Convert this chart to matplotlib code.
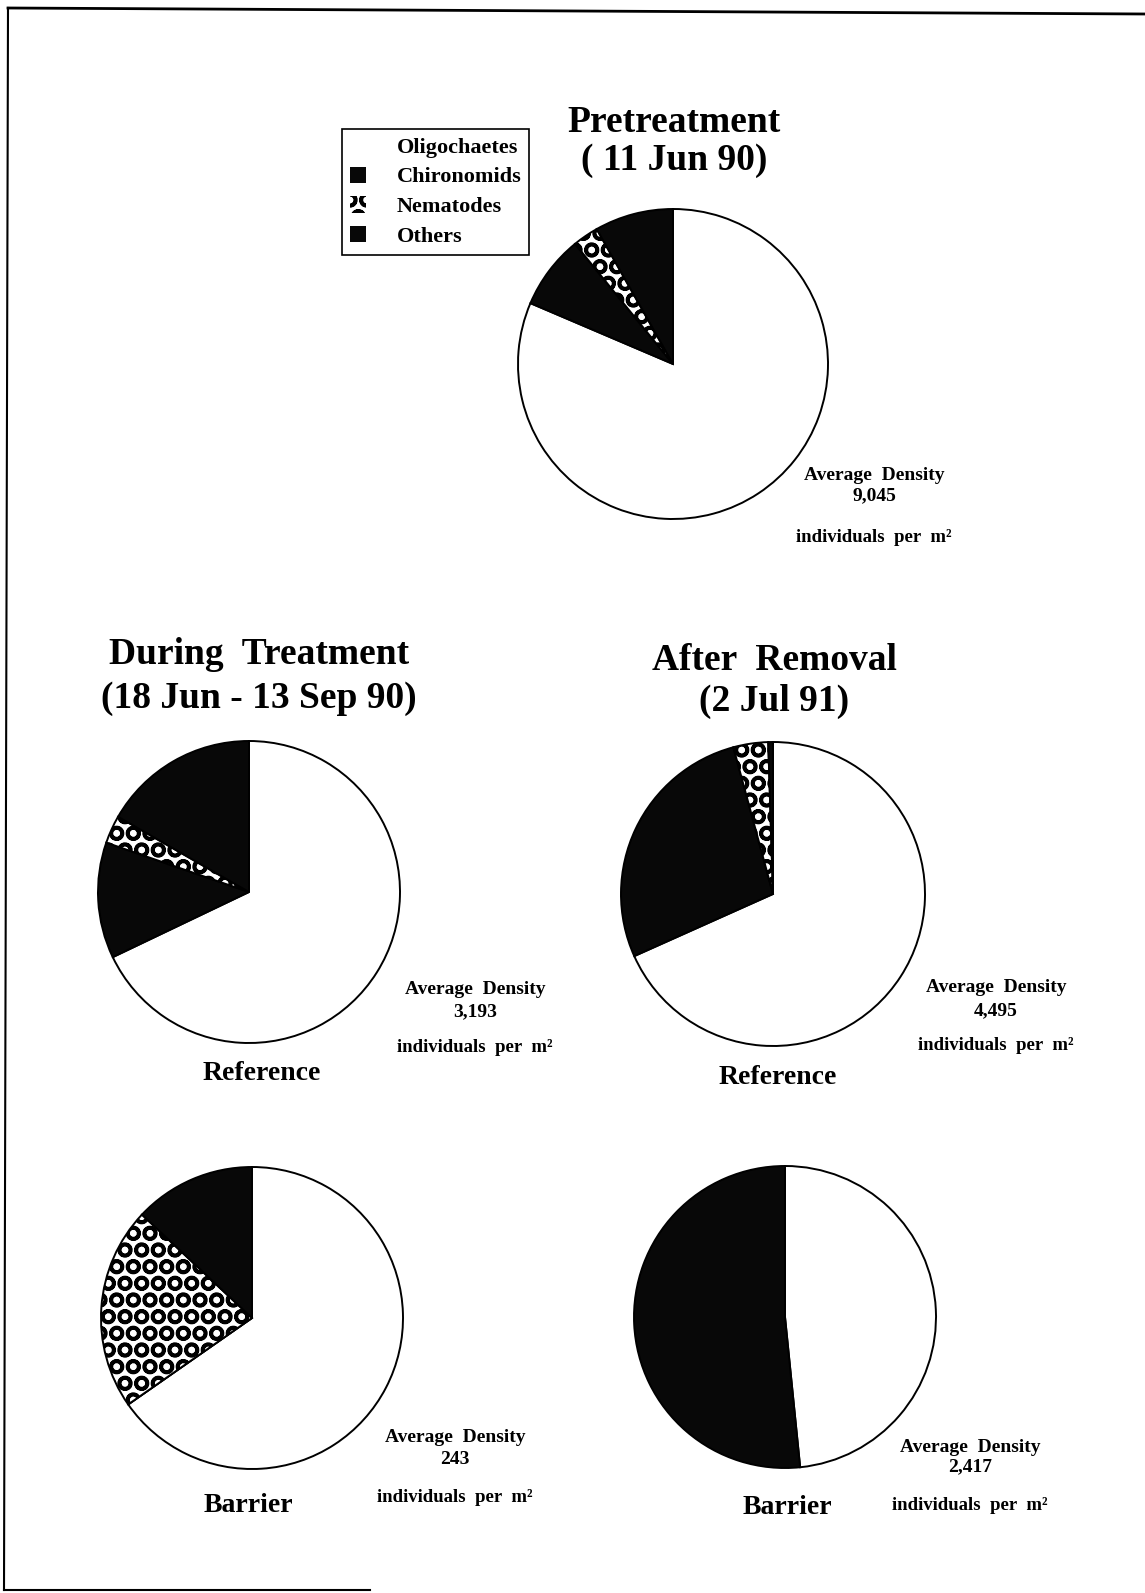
import matplotlib
matplotlib.use("Agg")
import matplotlib.pyplot as plt
from matplotlib.patches import Patch

plt.rcParams['font.family'] = ['Liberation Serif', 'DejaVu Serif']
plt.rcParams['hatch.color'] = 'black'
plt.rcParams['hatch.linewidth'] = 2.6

W, H = 1145, 1593

categories = ['Oligochaetes', 'Chironomids', 'Nematodes', 'Others']
colors = ['white', '#080808', 'white', '#080808']
hatches = [None, None, 'O', None]

# percent of individuals
pre_values = [81.5, 7.7, 2.7, 8.2]
during_ref_values = [67.9, 12.4, 3.0, 16.7]
after_ref_values = [68.3, 27.5, 3.7, 0.5]
during_bar_values = [65.3, 0.0, 21.7, 13.0]
after_bar_values = [48.4, 51.6, 0.0, 0.0]

densities = ['9,045', '3,193', '4,495', '243', '2,417']

fig = plt.figure(figsize=(W / 100, H / 100), dpi=100)
ax = fig.add_axes([0, 0, 1, 1])


def Y(y):
    return H - y


def draw_pie(vals, cx, cy, r):
    wedges, _ = ax.pie(vals, colors=colors, startangle=90, counterclock=False,
                       center=(cx, Y(cy)), radius=r,
                       wedgeprops=dict(edgecolor='black', linewidth=1.4))
    for w, h in zip(wedges, hatches):
        if h:
            w.set_hatch(h)
    return wedges


draw_pie(pre_values, 673, 364, 155)
draw_pie(during_ref_values, 249, 892, 151)
draw_pie(after_ref_values, 773, 894, 152)
draw_pie(during_bar_values, 252, 1318, 151)
draw_pie(after_bar_values, 785, 1317, 151)

bold = dict(fontweight='bold', ha='center', va='center')
ax.text(674, Y(123), 'Pretreatment', fontsize=27, **bold)
ax.text(674, Y(161), '( 11 Jun 90)', fontsize=27, **bold)
ax.text(259, Y(655), 'During  Treatment', fontsize=27, **bold)
ax.text(259, Y(699), '(18 Jun - 13 Sep 90)', fontsize=27, **bold)
ax.text(774, Y(660), 'After  Removal', fontsize=27, **bold)
ax.text(774, Y(701), '(2 Jul 91)', fontsize=27, **bold)
ax.text(262, Y(1074), 'Reference', fontsize=20, **bold)
ax.text(778, Y(1077), 'Reference', fontsize=20, **bold)
ax.text(248, Y(1505), 'Barrier', fontsize=20, **bold)
ax.text(787, Y(1508), 'Barrier', fontsize=20, **bold)

# density notes: (x, y of first line, y of number, y of last line)
note_pos = [(874, 475, 496, 538), (475, 989, 1012, 1047), (996, 987, 1011, 1045),
            (455, 1438, 1460, 1497), (970, 1447, 1467, 1506)]
for d, (x, y1, y2, y3) in zip(densities, note_pos):
    ax.text(x, Y(y1), 'Average  Density', fontsize=14, **bold)
    ax.text(x, Y(y2), d, fontsize=14, **bold)
    ax.text(x, Y(y3), 'individuals  per  m²', fontsize=13.5, **bold)

# page border
ax.plot([8, 1145], [Y(8), Y(14)], color='black', lw=2)
ax.plot([8, 4], [Y(8), Y(1590)], color='black', lw=1.5)
ax.plot([4, 370], [Y(1590), Y(1590)], color='black', lw=1.5)

edge = ['white', 'black', 'black', 'black']
handles = [Patch(facecolor=c, edgecolor=e, hatch=h, linewidth=0)
           for c, e, h in zip(colors, edge, hatches)]
leg = ax.legend(handles, categories, loc='upper left',
                bbox_to_anchor=(342 / W, 1 - 129 / H), bbox_transform=fig.transFigure,
                fancybox=False, framealpha=1, edgecolor='black',
                prop=dict(family='Liberation Serif', weight='bold', size=16),
                handlelength=0.75, handleheight=0.75, labelspacing=0.4,
                borderpad=0.35, handletextpad=1.35, borderaxespad=0)
leg.get_frame().set_linewidth(1.2)

ax.set_xlim(0, W)
ax.set_ylim(0, H)
ax.set_aspect('equal')
ax.axis('off')

fig.savefig('out.png', dpi=100)
